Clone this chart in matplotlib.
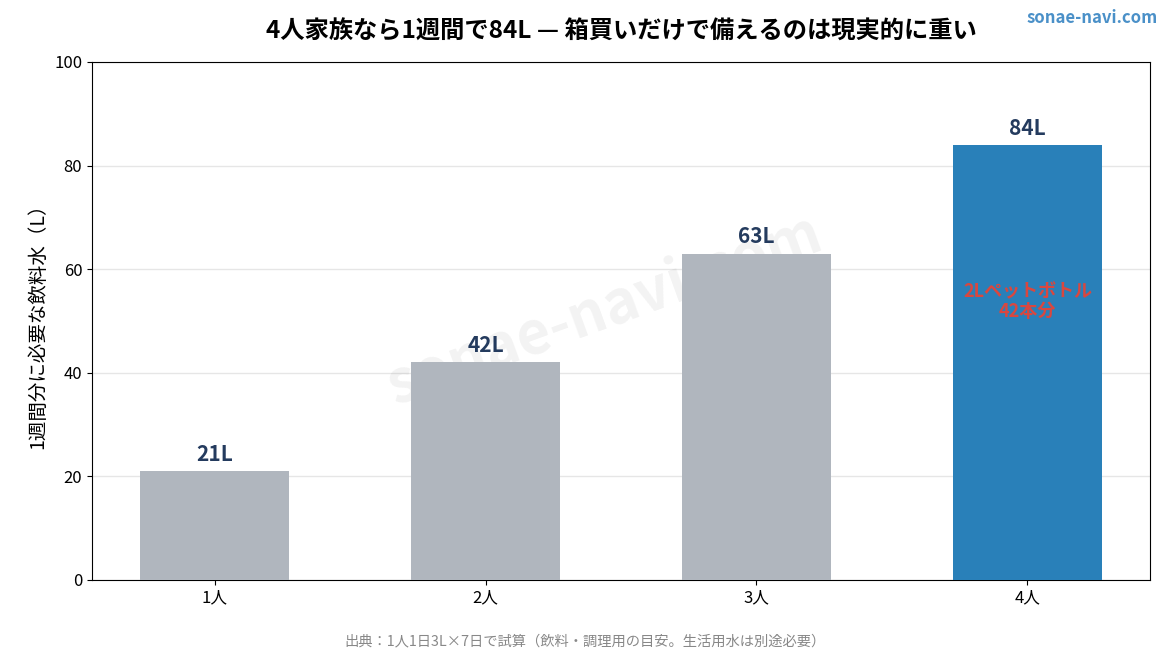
import matplotlib
matplotlib.use("Agg")
import matplotlib.pyplot as plt
import numpy as np

plt.rcParams['font.family'] = ['Noto Sans CJK JP', 'DejaVu Sans']

categories = ["1人", "2人", "3人", "4人"]
liters = [21, 42, 63, 84]
bar_colors = ["#b0b6be", "#b0b6be", "#b0b6be", "#2980b9"]
yticks = [0, 20, 40, 60, 80, 100]

fig = plt.figure(figsize=(11.7, 6.5), dpi=100)
ax = fig.add_axes([92/1170, 70/650, (1150-92)/1170, (580-62)/650])

x = np.arange(len(categories))
bars = ax.bar(x, liters, width=0.55, color=bar_colors, zorder=3)

for xi, v in zip(x, liters):
    ax.text(xi, v + 1.2, f"{v}L", ha="center", va="bottom",
            fontsize=15, fontweight="bold", color="#243b5e", zorder=4)

ax.text(x[-1], 53.7, "2Lペットボトル\n42本分", ha="center", va="center",
        fontsize=13, fontweight="bold", color="#d9473f", linespacing=1.05, zorder=4)

ax.set_ylim(0, 100)
ax.set_yticks(yticks)
ax.set_xticks(x)
ax.set_xticklabels(categories)
ax.tick_params(labelsize=12)
ax.grid(axis="y", color="#e6e6e6", linewidth=1, zorder=0)
ax.set_axisbelow(True)
ax.set_ylabel("1週間分に必要な飲料水（L）", fontsize=14)

ax.set_title("4人家族なら1週間で84L — 箱買いだけで備えるのは現実的に重い",
             fontsize=17.5, fontweight="bold", pad=17)

# watermark (behind the bars)
ax.text(0.485, 0.52, "sonae-navi.com", transform=ax.transAxes, fontsize=42,
        fontweight="bold", color="#000000", alpha=0.05, rotation=20,
        ha="center", va="center", zorder=1)

fig.text(1158/1170, 1 - 18/650, "sonae-navi.com", ha="right", va="center",
         fontsize=12, fontweight="bold", color="#4a90c8")

fig.text(0.5, 1 - 641/650, "出典：1人1日3L×7日で試算（飲料・調理用の目安。生活用水は別途必要）",
         ha="center", va="center", fontsize=10.3, color="#888888")

fig.savefig("out.png", dpi=100)
